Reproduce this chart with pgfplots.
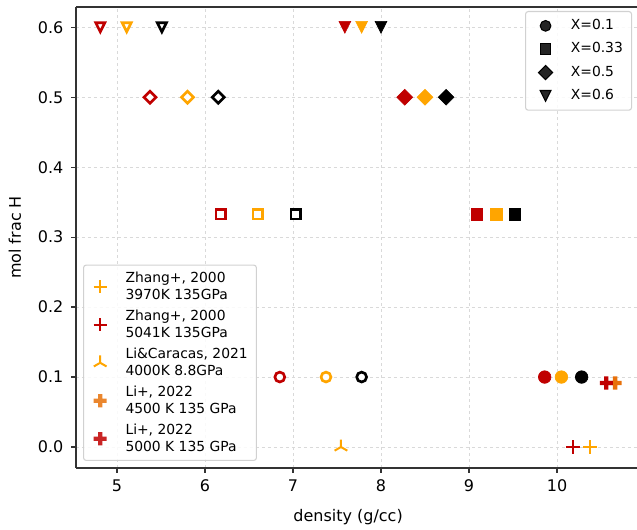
\documentclass[border=0pt]{standalone}
\usepackage{pgfplots}
\pgfplotsset{compat=1.18}
\usepackage{fontspec}
\setmainfont{DejaVu Sans}
\definecolor{cred}{HTML}{C00000}
\definecolor{corange}{HTML}{FFA500}
\definecolor{cdorange}{HTML}{E8710A}
\pgfdeclareplotmark{vtri}{%
  \pgfpathmoveto{\pgfpoint{-\pgfplotmarksize}{\pgfplotmarksize}}%
  \pgfpathlineto{\pgfpoint{\pgfplotmarksize}{\pgfplotmarksize}}%
  \pgfpathlineto{\pgfpoint{0pt}{-\pgfplotmarksize}}%
  \pgfpathclose\pgfusepathqfillstroke}
\pgfdeclareplotmark{dia}{%
  \pgfpathmoveto{\pgfpoint{0pt}{\pgfplotmarksize}}%
  \pgfpathlineto{\pgfpoint{\pgfplotmarksize}{0pt}}%
  \pgfpathlineto{\pgfpoint{0pt}{-\pgfplotmarksize}}%
  \pgfpathlineto{\pgfpoint{-\pgfplotmarksize}{0pt}}%
  \pgfpathclose\pgfusepathqfillstroke}
\pgfdeclareplotmark{Pfill}{%
  \pgfpathmoveto{\pgfpoint{-0.333\pgfplotmarksize}{-\pgfplotmarksize}}%
  \pgfpathlineto{\pgfpoint{0.333\pgfplotmarksize}{-\pgfplotmarksize}}%
  \pgfpathlineto{\pgfpoint{0.333\pgfplotmarksize}{-0.333\pgfplotmarksize}}%
  \pgfpathlineto{\pgfpoint{\pgfplotmarksize}{-0.333\pgfplotmarksize}}%
  \pgfpathlineto{\pgfpoint{\pgfplotmarksize}{0.333\pgfplotmarksize}}%
  \pgfpathlineto{\pgfpoint{0.333\pgfplotmarksize}{0.333\pgfplotmarksize}}%
  \pgfpathlineto{\pgfpoint{0.333\pgfplotmarksize}{\pgfplotmarksize}}%
  \pgfpathlineto{\pgfpoint{-0.333\pgfplotmarksize}{\pgfplotmarksize}}%
  \pgfpathlineto{\pgfpoint{-0.333\pgfplotmarksize}{0.333\pgfplotmarksize}}%
  \pgfpathlineto{\pgfpoint{-\pgfplotmarksize}{0.333\pgfplotmarksize}}%
  \pgfpathlineto{\pgfpoint{-\pgfplotmarksize}{-0.333\pgfplotmarksize}}%
  \pgfpathlineto{\pgfpoint{-0.333\pgfplotmarksize}{-0.333\pgfplotmarksize}}%
  \pgfpathclose\pgfusepathqfill}
\pgfdeclareplotmark{triup}{%
  \pgfpathmoveto{\pgfpoint{0pt}{0pt}}%
  \pgfpathlineto{\pgfpoint{0pt}{\pgfplotmarksize}}%
  \pgfpathmoveto{\pgfpoint{0pt}{0pt}}%
  \pgfpathlineto{\pgfpoint{-0.866\pgfplotmarksize}{-0.5\pgfplotmarksize}}%
  \pgfpathmoveto{\pgfpoint{0pt}{0pt}}%
  \pgfpathlineto{\pgfpoint{0.866\pgfplotmarksize}{-0.5\pgfplotmarksize}}%
  \pgfusepathqstroke}
\pgfplotsset{
  opn/.style={only marks, forget plot, mark options={draw=#1, fill=white, line width=2pt}},
  fil/.style={only marks, forget plot, color=#1, mark options={line width=0.5pt}},
  mklegend/.style 2 args={legend image code/.code={%
    \path[draw=none, fill=none] (0pt,-3pt) rectangle (#2,3pt);
    \draw[##1] plot coordinates {(#1,0pt)};}},
}
\begin{document}
\begin{tikzpicture}
\path[use as bounding box] (-57pt,-46.5pt) rectangle (420.75pt,351pt);
\clip (-57pt,-46.5pt) rectangle (420.75pt,351pt);
\begin{axis}[
  scale only axis, width=420.75pt, height=345.75pt,
  xmin=4.534, xmax=10.909, ymin=-0.03, ymax=0.629,
  axis y line*=left,
  axis line style={black!80, line width=0.9pt},
  tick pos=left, tick align=outside, major tick length=3.5pt,
  tick style={black!80, line width=0.9pt},
  xtick={5,6,7,8,9,10}, ytick={0,0.1,0.2,0.3,0.4,0.5,0.6},
  /pgf/number format/assume math mode=true,
  ticklabel style={font=\fontsize{12}{14}\selectfont},
  xticklabel style={yshift=-1.5pt},
  yticklabel style={xshift=-2.5pt, /pgf/number format/.cd, fixed, fixed zerofill, precision=1},
  grid=major, grid style={gray!30, line width=0.6pt, dash pattern=on 2.5pt off 2pt},
  xlabel={density (g/cc)}, ylabel={mol frac H},
  every axis x label/.style={at={(axis description cs:0.485,-0.106)}, anchor=center, font=\fontsize{12}{14}\selectfont},
  every axis y label/.style={at={(axis description cs:-0.1087,0.5)}, rotate=90, anchor=center, font=\fontsize{12}{14}\selectfont},
  legend cell align=left,
  mklegend={9.5pt}{25pt},
  legend style={at={(axis description cs:0.0125,0.0152)}, anchor=south west,
    font=\fontsize{10.4}{12.5}\selectfont, draw=black!18, line width=0.8pt,
    rounded corners=2pt, fill=white, fill opacity=0.85, text opacity=1,
    inner xsep=3pt,
    nodes={align=left, inner ysep=3.3pt, inner xsep=3.5pt}, row sep=0pt},
]
% open markers
\addplot[opn=cred, mark=vtri, mark size=3.4pt] coordinates {(4.81,0.6)};
\addplot[opn=corange, mark=vtri, mark size=3.4pt] coordinates {(5.11,0.6)};
\addplot[opn=black, mark=vtri, mark size=3.4pt] coordinates {(5.51,0.6)};
\addplot[opn=cred, mark=dia, mark size=4.5pt] coordinates {(5.375,0.5)};
\addplot[opn=corange, mark=dia, mark size=4.5pt] coordinates {(5.80,0.5)};
\addplot[opn=black, mark=dia, mark size=4.5pt] coordinates {(6.15,0.5)};
\addplot[opn=cred, mark=square*, mark size=3.6pt] coordinates {(6.18,0.333)};
\addplot[opn=corange, mark=square*, mark size=3.6pt] coordinates {(6.60,0.333)};
\addplot[opn=black, mark=square*, mark size=3.6pt] coordinates {(7.03,0.333)};
\addplot[opn=cred, mark=*, mark size=3.7pt] coordinates {(6.85,0.1)};
\addplot[opn=corange, mark=*, mark size=3.7pt] coordinates {(7.375,0.1)};
\addplot[opn=black, mark=*, mark size=3.7pt] coordinates {(7.78,0.1)};
% filled markers
\addplot[fil=cred, mark=vtri, mark size=4.4pt] coordinates {(7.59,0.6)};
\addplot[fil=corange, mark=vtri, mark size=4.4pt] coordinates {(7.78,0.6)};
\addplot[fil=black, mark=vtri, mark size=4.4pt] coordinates {(8.0,0.6)};
\addplot[fil=cred, mark=dia, mark size=5.9pt] coordinates {(8.27,0.5)};
\addplot[fil=corange, mark=dia, mark size=5.9pt] coordinates {(8.5,0.5)};
\addplot[fil=black, mark=dia, mark size=5.9pt] coordinates {(8.74,0.5)};
\addplot[fil=cred, mark=square*, mark size=4.4pt] coordinates {(9.09,0.333)};
\addplot[fil=corange, mark=square*, mark size=4.4pt] coordinates {(9.31,0.333)};
\addplot[fil=black, mark=square*, mark size=4.4pt] coordinates {(9.52,0.333)};
\addplot[fil=cred, mark=*, mark size=4.7pt] coordinates {(9.86,0.1)};
\addplot[fil=corange, mark=*, mark size=4.7pt] coordinates {(10.05,0.1)};
\addplot[fil=black, mark=*, mark size=4.7pt] coordinates {(10.28,0.1)};
% literature
\addplot[only marks, color=corange, mark=+, mark size=5pt, mark options={line width=1.5pt}] coordinates {(10.375,0.0)};
\addlegendentry{Zhang+, 2000\\3970K 135GPa}
\addplot[only marks, color=cred, mark=+, mark size=5pt, mark options={line width=1.5pt}] coordinates {(10.18,0.0)};
\addlegendentry{Zhang+, 2000\\5041K 135GPa}
\addplot[only marks, color=corange, mark=triup, mark size=5.5pt, mark options={line width=1.5pt}] coordinates {(7.545,0.0)};
\addlegendentry{Li\&Caracas, 2021\\4000K 8.8GPa}
\addplot[only marks, color=cdorange, mark=Pfill, mark size=4.9pt] coordinates {(10.66,0.0915)};
\addlegendentry{Li+, 2022\\4500 K 135 GPa}
\addplot[only marks, color=cred, mark=Pfill, mark size=4.9pt] coordinates {(10.56,0.0915)};
\addlegendentry{Li+, 2022\\5000 K 135 GPa}
\end{axis}
\begin{axis}[
  scale only axis, width=420.75pt, height=345.75pt,
  xmin=4.534, xmax=10.909, ymin=-0.03, ymax=0.629,
  hide axis,
  legend cell align=left,
  mklegend={12pt}{27.5pt},
  legend style={at={(axis description cs:0.8004,0.9913)}, anchor=north west,
    font=\fontsize{10.4}{12.5}\selectfont, draw=black!18, line width=0.8pt,
    rounded corners=2pt, fill=white, fill opacity=0.85, text opacity=1,
    inner xsep=3pt,
    nodes={text height=8pt, text depth=2.5pt, inner ysep=3.5pt, inner xsep=3.5pt}, row sep=0pt},
]
\addlegendimage{only marks, mark=*, black, mark size=4pt}
\addlegendentry{X=0.1}
\addlegendimage{only marks, mark=square*, black, mark size=4pt}
\addlegendentry{X=0.33}
\addlegendimage{only marks, mark=dia, black, mark size=5.3pt}
\addlegendentry{X=0.5}
\addlegendimage{only marks, mark=vtri, black, mark size=4pt}
\addlegendentry{X=0.6}
\end{axis}
\end{tikzpicture}
\end{document}
